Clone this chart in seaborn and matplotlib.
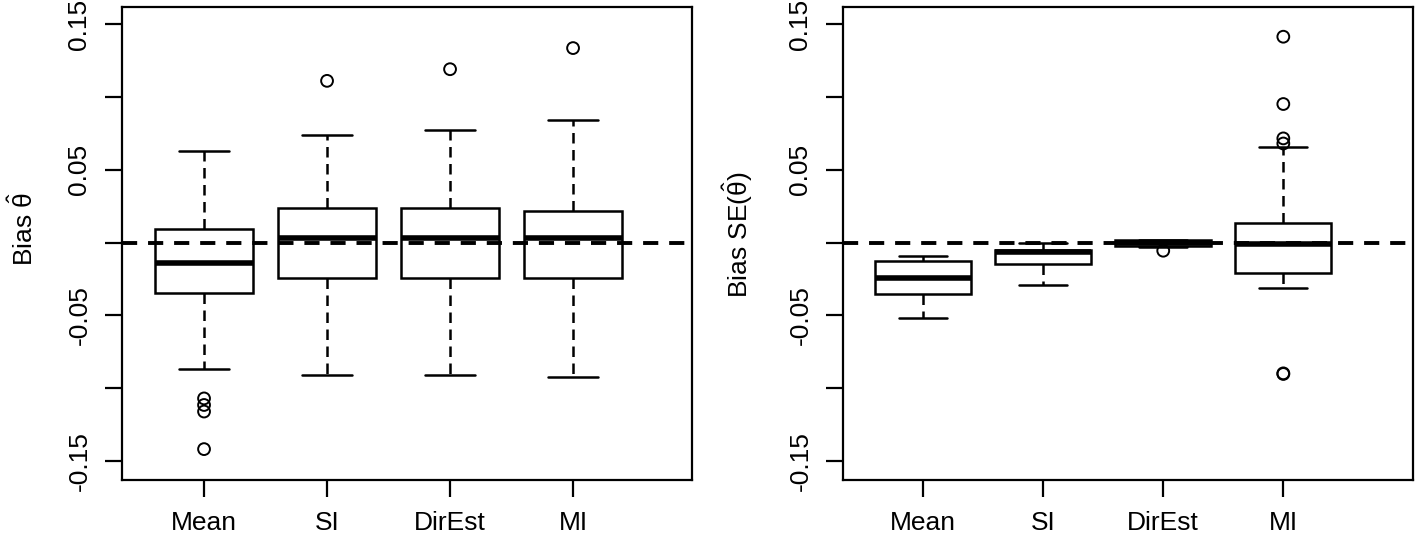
import pandas as pd
import numpy as np
import seaborn as sns
import matplotlib.pyplot as plt

methods = ["Mean", "SI", "DirEst", "MI"]

# Five-number summaries:
# lower whisker, Q1, median, Q3, upper whisker
theta_mean = [-0.087, -0.0349, -0.0139, 0.0091, 0.063]
theta_si = [-0.091, -0.0244, 0.0029, 0.0239, 0.0738]
theta_direst = [-0.091, -0.0244, 0.0029, 0.0239, 0.0772]
theta_mi = [-0.0921, -0.0244, 0.0029, 0.0218, 0.0841]

# outliers (open circles) for the left panel
theta_out_method = ["Mean", "Mean", "Mean", "Mean", "SI", "DirEst", "MI"]
theta_out_value = [-0.107, -0.1115, -0.116, -0.1418, 0.111, 0.119, 0.1335]

# right panel: bias of the standard error
se_mean = [-0.0516, -0.0351, -0.0242, -0.0127, -0.0093]
se_si = [-0.0292, -0.015, -0.0067, -0.0054, 0.0]
se_direst = [-0.003, -0.0025, -0.0005, 0.0015, 0.002]
se_mi = [-0.0315, -0.0212, -0.0012, 0.0136, 0.0656]

se_out_method = ["DirEst", "MI", "MI", "MI", "MI", "MI", "MI"]
se_out_value = [-0.0056, 0.1413, 0.0951, 0.0715, 0.068, -0.0898, -0.0902]

y_ticks = [-0.15, -0.10, -0.05, 0.0, 0.05, 0.10, 0.15]
y_tick_labels = ["-0.15", "", "-0.05", "", "0.05", "", "0.15"]


def summary_frame(summaries):
    rows = []
    for m, vals in zip(methods, summaries):
        for v in vals:
            rows.append((m, v))
    return pd.DataFrame(rows, columns=["method", "bias"])


sns.set_style("ticks")
plt.rcParams["font.family"] = ["Liberation Sans", "DejaVu Sans"]
plt.rcParams["mathtext.fontset"] = "custom"
plt.rcParams["mathtext.rm"] = "Liberation Sans"
plt.rcParams["mathtext.it"] = "Liberation Sans:italic"
for key in ["text.color", "axes.labelcolor", "xtick.color", "ytick.color",
            "xtick.labelcolor", "ytick.labelcolor"]:
    plt.rcParams[key] = "black"


def draw_panel(ax, box_df, out_df, ylabel, xlim, label_xy):
    sns.boxplot(data=box_df, x="method", y="bias", order=methods,
                whis=(0, 100), width=0.8, color="white", linecolor="black",
                linewidth=1.8, showfliers=False,
                medianprops={"linewidth": 4.0},
                whiskerprops={"linestyle": (0, (4.2, 2.6))},
                ax=ax)
    sns.stripplot(data=out_df, x="method", y="bias", order=methods,
                  jitter=False, size=8.5, color="black", edgecolor="black",
                  linewidth=1.4, ax=ax)
    for coll in ax.collections:
        coll.set_facecolor("none")

    # reference line at zero, drawn over the boxes
    ax.axhline(0, color="black", lw=2.8, ls=(0, (3.9, 2.8)), zorder=5)

    ax.set_xlim(*xlim)
    ax.set_ylim(-0.163, 0.1617)
    ax.set_yticks(y_ticks)
    ax.set_yticklabels(y_tick_labels)
    ax.set_xlabel("")
    ax.set_ylabel(ylabel, fontsize=19)
    ax.yaxis.set_label_coords(*label_xy)

    ax.tick_params(direction="out", length=12, width=1.6, labelsize=19,
                   pad=10, color="black", labelcolor="black")
    ax.tick_params(axis="y", labelrotation=90)
    for t in ax.get_yticklabels():
        t.set_va("center")
    for sp in ax.spines.values():
        sp.set_visible(True)
        sp.set_linewidth(1.6)
        sp.set_color("black")


fig = plt.figure(figsize=(14.15, 5.4))
ax1 = fig.add_axes([122 / 1415, 60 / 540, 570 / 1415, 473 / 540])
ax2 = fig.add_axes([843 / 1415, 60 / 540, 570 / 1415, 473 / 540])

theta_box = summary_frame([theta_mean, theta_si, theta_direst, theta_mi])
theta_out = pd.DataFrame({"method": theta_out_method, "bias": theta_out_value})
se_box = summary_frame([se_mean, se_si, se_direst, se_mi])
se_out = pd.DataFrame({"method": se_out_method, "bias": se_out_value})

draw_panel(ax1, theta_box, theta_out, r"Bias $\hat{\mathrm{\theta}}$",
           (-0.667, 3.967), (-0.147, 0.53))
draw_panel(ax2, se_box, se_out, r"Bias SE$(\hat{\mathrm{\theta}})$",
           (-0.667, 4.08), (-0.154, 0.518))

fig.savefig("out.png", dpi=100)
